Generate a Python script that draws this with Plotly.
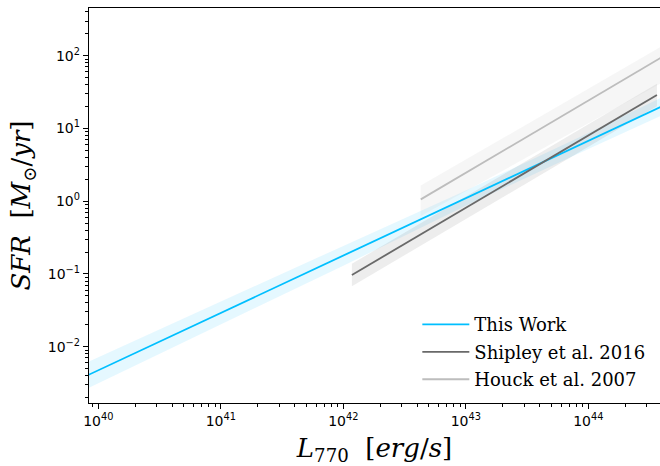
import plotly.graph_objects as go

# ---- data (log-log relation lines and their bands) ----
L_this = [10**39.92, 1e41, 1e42, 1e43, 1e44, 10**44.6]
sfr_this = [0.0041, 0.029, 0.178, 1.10, 6.75, 20.1]
sfr_this_lo = [0.0027, 0.0201, 0.130, 0.863, 5.24, 15.1]
sfr_this_hi = [0.0062, 0.0419, 0.243, 1.40, 8.69, 26.8]

L_ship = [10**42.07, 10**44.56]
sfr_ship = [0.0968, 28.8]
sfr_ship_lo = [0.0677, 20.2]
sfr_ship_hi = [0.138, 41.2]

L_houck = [10**42.632, 10**44.6]
sfr_houck = [1.06, 95.3]
sfr_houck_lo = [0.624, 42.6]
sfr_houck_hi = [1.64, 134.7]

x_ticks = [1e40, 1e41, 1e42, 1e43, 1e44]
x_ticktext = ["10<sup>40</sup>", "10<sup>41</sup>", "10<sup>42</sup>", "10<sup>43</sup>", "10<sup>44</sup>"]
y_ticks = [1e-2, 1e-1, 1e0, 1e1, 1e2]
y_ticktext = ["10<sup>\u22122</sup>", "10<sup>\u22121</sup>", "10<sup>0</sup>", "10<sup>1</sup>", "10<sup>2</sup>"]

series = [
    ("This Work", L_this, sfr_this, sfr_this_lo, sfr_this_hi, "#00bfff", "rgba(0,191,255,0.10)"),
    ("Shipley et al. 2016", L_ship, sfr_ship, sfr_ship_lo, sfr_ship_hi, "#696969", "rgba(105,105,105,0.12)"),
    ("Houck et al. 2007", L_houck, sfr_houck, sfr_houck_lo, sfr_houck_hi, "#bdbdbd", "rgba(190,190,190,0.14)"),
]

fig = go.Figure()
for name, L, s, lo, hi, col, fcol in series:
    fig.add_trace(go.Scatter(
        x=list(L) + list(L)[::-1], y=list(hi) + list(lo)[::-1],
        fill="toself", fillcolor=fcol, line=dict(width=0), mode="lines",
        showlegend=False, hoverinfo="skip"))
for name, L, s, lo, hi, col, fcol in series:
    fig.add_trace(go.Scatter(x=L, y=s, mode="lines", name=name, legendgroup=name,
                             line=dict(color=col, width=1.8)))

axis_common = dict(
    type="log", showgrid=False, zeroline=False,
    showline=True, linecolor="black", linewidth=1.4,
    ticks="outside", ticklen=5, tickwidth=1.2, tickcolor="black",
    tickfont=dict(family="DejaVu Sans", size=14, color="black"),
    minor=dict(ticks="outside", ticklen=3, tickwidth=0.9, tickcolor="black",
               dtick="D1", showgrid=False),
)

fig.update_xaxes(**axis_common, range=[39.924, 44.585], tickvals=x_ticks,
                 ticktext=x_ticktext, mirror=True,
                 title=dict(text="<i>L</i><sub>770</sub>  [<i>erg</i>/<i>s</i>]",
                            font=dict(family="DejaVu Serif", size=26, color="black"),
                            standoff=11))
fig.update_yaxes(**axis_common, range=[-2.774, 2.656], tickvals=y_ticks,
                 ticktext=y_ticktext,
                 title=dict(text="<i>SFR</i>  [<i>M</i><sub>⊙</sub>/<i>yr</i>]",
                            font=dict(family="DejaVu Serif", size=26, color="black"),
                            standoff=9))

fig.update_layout(
    width=660, height=466,
    margin=dict(l=89, r=0, t=8, b=63),
    paper_bgcolor="white", plot_bgcolor="white",
    legend=dict(x=0.575, y=0.245, xanchor="left", yanchor="top",
                bgcolor="rgba(0,0,0,0)", borderwidth=0, itemwidth=47,
                tracegroupgap=1, traceorder="grouped",
                font=dict(family="DejaVu Serif", size=18, color="black")),
)

fig.write_html("out.html")
